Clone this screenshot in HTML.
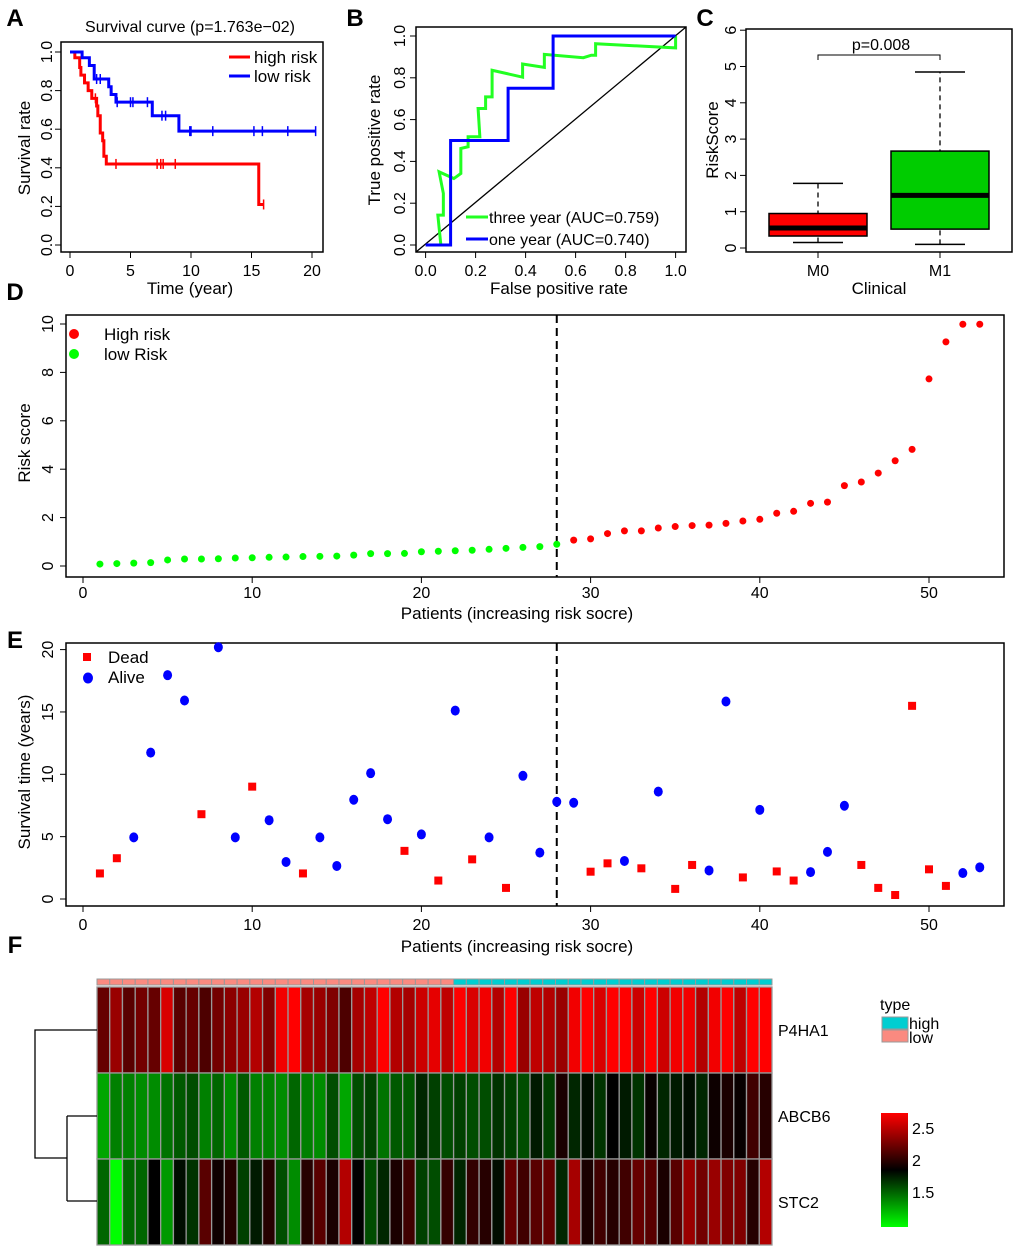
<!DOCTYPE html>
<html><head><meta charset="utf-8"><style>
body{margin:0;background:#fff}
svg text{font-family:"Liberation Sans",Arial,sans-serif;fill:#000}
</style></head><body>
<svg id="fig" width="1020" height="1250" viewBox="0 0 1020 1250" xmlns="http://www.w3.org/2000/svg"></svg>
<script>
// ---------- data ----------
const kmHighT=[0,0.4,0.8,0.9,1.2,1.5,1.8,2.2,2.3,2.5,2.7,2.8,3.0,15.6];
const kmHighS=[1,0.97,0.92,0.88,0.84,0.80,0.76,0.72,0.67,0.58,0.54,0.46,0.42,0.21];
const kmHighEnd=16;
const kmHighCens=[2.1,3.8,7.2,7.5,7.7,8.7,16];
const kmLowT=[0,1.0,1.6,2.0,3.2,3.4,3.8,6.8,9.0];
const kmLowS=[1,0.97,0.93,0.86,0.82,0.78,0.74,0.67,0.59];
const kmLowEnd=20.3;
const kmLowCens=[2.2,2.5,3.9,5.0,5.2,6.4,7.6,7.9,9.9,10.0,11.8,15.2,15.9,18.0,20.3];
const rocGreenF=[0.061,0.049,0.071,0.071,0.054,0.113,0.141,0.141,0.17,0.17,0.217,0.21,0.24,0.24,0.266,0.266,0.388,0.388,0.475,0.475,0.631,0.663,0.68,0.68,1,1];
const rocGreenT=[0,0.143,0.143,0.247,0.35,0.318,0.342,0.462,0.47,0.518,0.518,0.653,0.653,0.709,0.709,0.836,0.803,0.866,0.85,0.912,0.896,0.908,0.908,0.963,0.943,1];
const rocBlueF=[0,0.1,0.1,0.33,0.33,0.51,0.51,1];
const rocBlueT=[0,0,0.5,0.5,0.75,0.75,1,1];
const boxGroups=["M0","M1"];
const boxStats=[[0.15,0.33,0.55,0.95,1.78],[0.1,0.52,1.45,2.67,4.85]];
const riskScores=[0.08,0.1,0.12,0.14,0.25,0.29,0.29,0.3,0.33,0.34,0.36,0.37,0.39,0.4,0.41,0.45,0.51,0.51,0.52,0.59,0.61,0.63,0.65,0.69,0.73,0.77,0.8,0.9,
1.07,1.12,1.34,1.45,1.45,1.57,1.63,1.67,1.69,1.76,1.86,1.93,2.18,2.26,2.59,2.64,3.32,3.47,3.84,4.35,4.82,7.73,9.26,9.99,9.99];
const cutoff=28;
const survTime=[2.05,3.27,4.94,11.74,17.95,15.92,6.8,20.19,4.94,9.01,6.32,2.97,2.05,4.94,2.65,7.96,10.09,6.4,3.86,5.18,1.48,15.11,3.18,4.94,0.89,9.88,3.72,7.8,
7.72,2.19,2.86,3.05,2.46,8.61,0.81,2.73,2.29,15.84,1.73,7.15,2.21,1.48,2.16,3.78,7.48,2.73,0.89,0.32,15.49,2.38,1.05,2.08,2.54];
const survDead=[1,1,0,0,0,0,1,0,0,1,0,0,1,0,0,0,0,0,1,0,1,0,1,0,1,0,0,0,0,1,1,0,1,0,1,1,0,0,1,0,1,1,0,0,0,1,1,1,1,1,1,0,0];
const geneNames=["P4HA1","ABCB6","STC2"];
const exprP4HA1=[.4,.6,.35,.45,.4,.85,.35,.4,.3,.45,.55,.6,.7,.5,.95,1,.65,.6,.5,.3,.65,.75,1,.7,.65,.8,.9,.75,1,.85,.95,.7,1,.6,.75,.7,.6,.95,1,.85,1,1,.8,1,.8,.95,.95,.7,.95,1,.75,1,1];
const exprABCB6=[-.65,-.5,-.5,-.55,-.55,-.45,-.35,-.3,-.5,-.4,-.55,-.35,-.5,-.5,-.55,-.4,-.5,-.55,-.3,-.65,-.3,-.25,-.45,-.35,-.35,-.15,-.25,-.3,-.25,-.3,-.3,-.2,-.25,-.3,-.1,-.25,.1,-.15,-.05,-.2,0,-.1,-.2,.03,-.15,-.1,-.05,-.15,.05,.1,.03,.25,.15];
const exprSTC2=[-.4,-1,-.4,-.4,0,-.6,-.05,-.2,.35,.05,.15,-.25,-.1,.15,-.3,-.55,.15,.35,.1,.7,0,-.3,-.15,.1,.25,-.25,-.3,.2,-.15,.2,.15,-.05,.4,.25,.35,.4,-.15,.65,.1,.25,.15,.25,.4,.35,.1,.35,.6,.45,.6,.5,.5,.15,.7];
const colorTicks=["2.5","2","1.5"];

// ---------- helpers ----------
const NS="http://www.w3.org/2000/svg";
const svg=document.getElementById('fig');
function mk(tag,attrs,parent){const e=document.createElementNS(NS,tag);for(const k in attrs)e.setAttribute(k,attrs[k]);(parent||svg).appendChild(e);return e;}
function txt(s,x,y,size,extra,parent){const e=mk('text',Object.assign({x:x,y:y,'font-size':size,'text-anchor':'middle'},extra||{}),parent);e.textContent=s;return e;}
function vtxt(s,x,y,size,parent){return txt(s,x,y,size,{transform:`rotate(-90 ${x} ${y})`},parent);}
function grp(){return mk('g',{});}

// panel letters
[["A",15,26],["B",355,26],["C",705,26],["D",15,300],["E",15,648],["F",15,953]].forEach(p=>{
 const t=txt(p[0],p[1],p[2],24,{'font-weight':'bold'});
 
 
});

// ---------- Panel A ----------
{
 const g=grp();
 
 
 const X=t=>70+t*12.1, Y=s=>245-s*193;
 mk('rect',{x:61,y:42,width:262,height:210,fill:'none',stroke:'#000','stroke-width':1.5},g);
 const title=txt("Survival curve (p=1.763e\u221202)",190,32,16,{},g);
 
 
 [0,5,10,15,20].forEach(v=>{mk('line',{x1:X(v),x2:X(v),y1:252,y2:258,stroke:'#000'},g);txt(v,X(v),276,16,{},g);});
 mk('line',{x1:X(0),x2:X(20),y1:252,y2:252,stroke:'#000'},g);
 [0,0.2,0.4,0.6,0.8,1].forEach(v=>{mk('line',{x1:55,x2:61,y1:Y(v),y2:Y(v),stroke:'#000'},g);vtxt(v.toFixed(1),52,Y(v),16,g);});
 const xl=txt("Time (year)",190,294,17,{},g);
 
 
 const yl=vtxt("Survival rate",30,148,17,g);
 
 
 function km(T,S,end,cens,col,name){
  let d=`M${X(T[0])},${Y(S[0])}`;
  for(let i=1;i<T.length;i++){d+=` H${X(T[i])} V${Y(S[i])}`;}
  d+=` H${X(end)}`;
  const p=mk('path',{d:d,fill:'none',stroke:col,'stroke-width':3},g);
  
  
  cens.forEach(c=>{let s=S[0];for(let i=0;i<T.length;i++)if(T[i]<=c)s=S[i];
   mk('line',{x1:X(c),x2:X(c),y1:Y(s)-5,y2:Y(s)+5,stroke:col,'stroke-width':1.5},g);});
 }
 km(kmHighT,kmHighS,kmHighEnd,kmHighCens,'#f00','high-risk');
 km(kmLowT,kmLowS,kmLowEnd,kmLowCens,'#00f','low-risk');
 mk('line',{x1:229,x2:250,y1:57,y2:57,stroke:'#f00','stroke-width':3},g);
 mk('line',{x1:229,x2:250,y1:76,y2:76,stroke:'#00f','stroke-width':3},g);
 const l1=txt("high risk",254,63,17,{'text-anchor':'start'},g);
 
 
 const l2=txt("low risk",254,82,17,{'text-anchor':'start'},g);
 
 
}

// ---------- Panel B ----------
{
 const g=grp();
 
 
 const X=f=>425.6+f*250, Y=t=>245-t*209;
 mk('rect',{x:416,y:27,width:270,height:225,fill:'none',stroke:'#000','stroke-width':1.5},g);
 [0,0.2,0.4,0.6,0.8,1].forEach(v=>{
  mk('line',{x1:X(v),x2:X(v),y1:252,y2:258,stroke:'#000'},g);txt(v.toFixed(1),X(v),276,16,{},g);
  mk('line',{x1:410,x2:416,y1:Y(v),y2:Y(v),stroke:'#000'},g);vtxt(v.toFixed(1),405,Y(v),16,g);
 });
 const xl=txt("False positive rate",559,294,17,{},g);
 
 
 const yl=vtxt("True positive rate",380,140,17,g);
 
 
 mk('line',{x1:416,y1:252,x2:686,y2:27,stroke:'#000','stroke-width':1.3},g);
 const pg=mk('polyline',{points:rocGreenF.map((f,i)=>X(f)+','+Y(rocGreenT[i])).join(' '),fill:'none',stroke:'#2f2','stroke-width':3},g);
 
 
 const pb=mk('polyline',{points:rocBlueF.map((f,i)=>X(f)+','+Y(rocBlueT[i])).join(' '),fill:'none',stroke:'#00f','stroke-width':3},g);
 
 
 mk('line',{x1:466,x2:488,y1:217,y2:217,stroke:'#2f2','stroke-width':3},g);
 mk('line',{x1:466,x2:488,y1:239,y2:239,stroke:'#00f','stroke-width':3},g);
 const l1=txt("three year (AUC=0.759)",489,223,16,{'text-anchor':'start'},g);
 
 
 const l2=txt("one year (AUC=0.740)",489,245,16,{'text-anchor':'start'},g);
 
 
}

// ---------- Panel C ----------
{
 const g=grp();
 
 
 const Y=v=>248-v*36.3, cx=[818,940], hw=49, fills=['#f00','#0c0'];
 mk('rect',{x:746,y:29,width:266,height:223,fill:'none',stroke:'#000','stroke-width':1.5},g);
 [0,1,2,3,4,5,6].forEach(v=>{mk('line',{x1:740,x2:746,y1:Y(v),y2:Y(v),stroke:'#000'},g);vtxt(v,736,Y(v),16,g);});
 boxGroups.forEach((n,i)=>{
  const s=boxStats[i],x=cx[i];
  mk('line',{x1:x,x2:x,y1:252,y2:258,stroke:'#000'},g);
  txt(n,x,276,16,{},g);
  mk('line',{x1:x,x2:x,y1:Y(s[0]),y2:Y(s[4]),stroke:'#000','stroke-dasharray':'5,4','stroke-width':1.3},g);
  mk('line',{x1:x-25,x2:x+25,y1:Y(s[0]),y2:Y(s[0]),stroke:'#000','stroke-width':1.5},g);
  mk('line',{x1:x-25,x2:x+25,y1:Y(s[4]),y2:Y(s[4]),stroke:'#000','stroke-width':1.5},g);
  const b=mk('rect',{x:x-hw,y:Y(s[3]),width:2*hw,height:Y(s[1])-Y(s[3]),fill:fills[i],stroke:'#000','stroke-width':1.5},g);
  
  
  mk('line',{x1:x-hw,x2:x+hw,y1:Y(s[2]),y2:Y(s[2]),stroke:'#000','stroke-width':5},g);
 });
 mk('polyline',{points:`818,60 818,55 940,55 940,60`,fill:'none',stroke:'#000'},g);
 const p=txt("p=0.008",881,50,16,{},g);
 
 
 const xl=txt("Clinical",879,294,17,{},g);
 
 
 const yl=vtxt("RiskScore",718,140,17,g);
 
 
}

// shared x for D/E
const PX=i=>83+i*16.92;

// ---------- Panel D ----------
{
 const g=grp();
 
 
 const Y=v=>566-v*24.2;
 mk('rect',{x:66,y:315,width:938,height:262,fill:'none',stroke:'#000','stroke-width':1.5},g);
 [0,10,20,30,40,50].forEach(v=>{mk('line',{x1:PX(v),x2:PX(v),y1:577,y2:583,stroke:'#000'},g);txt(v,PX(v),598,16,{},g);});
 [0,2,4,6,8,10].forEach(v=>{mk('line',{x1:60,x2:66,y1:Y(v),y2:Y(v),stroke:'#000'},g);vtxt(v,53,Y(v),16,g);});
 const xl=txt("Patients (increasing risk socre)",517,619,17,{},g);
 
 
 const yl=vtxt("Risk score",30,443,17,g);
 
 
 mk('line',{x1:PX(cutoff),x2:PX(cutoff),y1:315,y2:577,stroke:'#000','stroke-width':2,'stroke-dasharray':'8,5'},g);
 riskScores.forEach((v,i)=>{
  const c=mk('ellipse',{cx:PX(i+1),cy:Y(v),rx:3.5,ry:3.5,fill:(i+1)<=cutoff?'#0f0':'#f00'},g);
  
  
 });
 mk('circle',{cx:74,cy:334,r:5,fill:'#f00'},g);
 mk('circle',{cx:74,cy:354,r:5,fill:'#0f0'},g);
 const l1=txt("High risk",104,340,17,{'text-anchor':'start'},g);
 
 
 const l2=txt("low Risk",104,360,17,{'text-anchor':'start'},g);
 
 
}

// ---------- Panel E ----------
{
 const g=grp();
 
 
 const Y=v=>899-v*12.47;
 mk('rect',{x:66,y:643,width:938,height:263,fill:'none',stroke:'#000','stroke-width':1.5},g);
 [0,10,20,30,40,50].forEach(v=>{mk('line',{x1:PX(v),x2:PX(v),y1:906,y2:912,stroke:'#000'},g);txt(v,PX(v),930,16,{},g);});
 [0,5,10,15,20].forEach(v=>{mk('line',{x1:60,x2:66,y1:Y(v),y2:Y(v),stroke:'#000'},g);vtxt(v,53,Y(v),16,g);});
 const xl=txt("Patients (increasing risk socre)",517,952,17,{},g);
 
 
 const yl=vtxt("Survival time (years)",30,772,17,g);
 
 
 mk('line',{x1:PX(cutoff),x2:PX(cutoff),y1:643,y2:906,stroke:'#000','stroke-width':2,'stroke-dasharray':'8,5'},g);
 survTime.forEach((v,i)=>{
  let m;
  if(survDead[i]) m=mk('rect',{x:PX(i+1)-4,y:Y(v)-4,width:8,height:8,fill:'#f00'},g);
  else m=mk('ellipse',{cx:PX(i+1),cy:Y(v),rx:4.5,ry:5,fill:'#00f'},g);
  
  
 });
 mk('rect',{x:83,y:653,width:8,height:8,fill:'#f00'},g);
 mk('ellipse',{cx:88,cy:678,rx:5,ry:5.5,fill:'#00f'},g);
 const l1=txt("Dead",108,663,17,{'text-anchor':'start'},g);
 
 
 const l2=txt("Alive",108,683,17,{'text-anchor':'start'},g);
 
 
}

// ---------- Panel F ----------
{
 const g=grp();
 
 
 const x0=97, cw=675/53, rowTop=[987,1073,1159], rh=86;
 const col=v=>v>=0?`rgb(${Math.round(255*Math.min(1,v))},0,0)`:`rgb(0,${Math.round(255*Math.min(1,-v))},0)`;
 const rows=[exprP4HA1,exprABCB6,exprSTC2];
 for(let i=0;i<53;i++){
  const a=mk('rect',{x:x0+i*cw,y:979,width:cw,height:6,fill:(i+1)<=cutoff?'#fa8a80':'#00ced1',stroke:'#999','stroke-width':1},g);
  
  
 }
 rows.forEach((r,ri)=>{
  r.forEach((v,i)=>{
   const c=mk('rect',{x:x0+i*cw,y:rowTop[ri],width:cw,height:rh,fill:col(v),stroke:'#999','stroke-width':1.3},g);
   
   
  });
  const t=txt(geneNames[ri],778,rowTop[ri]+rh/2+6,16,{'text-anchor':'start'},g);
  
  
 });
 const dg=mk('path',{d:'M97,1030 H35 V1158 H67 M67,1116 V1201 M67,1116 H97 M67,1201 H97',fill:'none',stroke:'#000','stroke-width':1.3},g);
 
 
 const tl=txt("type",880,1010,16,{'text-anchor':'start'},g);
 
 
 mk('rect',{x:882,y:1017,width:26,height:12,fill:'#00ced1',stroke:'#999'},g);
 mk('rect',{x:882,y:1030,width:26,height:12,fill:'#fa8a80',stroke:'#999'},g);
 txt("high",909,1029,16,{'text-anchor':'start'},g);
 txt("low",909,1043,16,{'text-anchor':'start'},g);
 const defs=mk('defs',{});
 const lg=mk('linearGradient',{id:'cb',x1:0,y1:0,x2:0,y2:1},defs);
 mk('stop',{offset:'0','stop-color':'#f00'},lg);
 mk('stop',{offset:'0.5','stop-color':'#000'},lg);
 mk('stop',{offset:'1','stop-color':'#0f0'},lg);
 const cb=mk('rect',{x:881,y:1113,width:27,height:114,fill:'url(#cb)'},g);
 
 
 colorTicks.forEach((s,i)=>txt(s,912,1134+i*32,16,{'text-anchor':'start'},g));
}
</script>
</body></html>
